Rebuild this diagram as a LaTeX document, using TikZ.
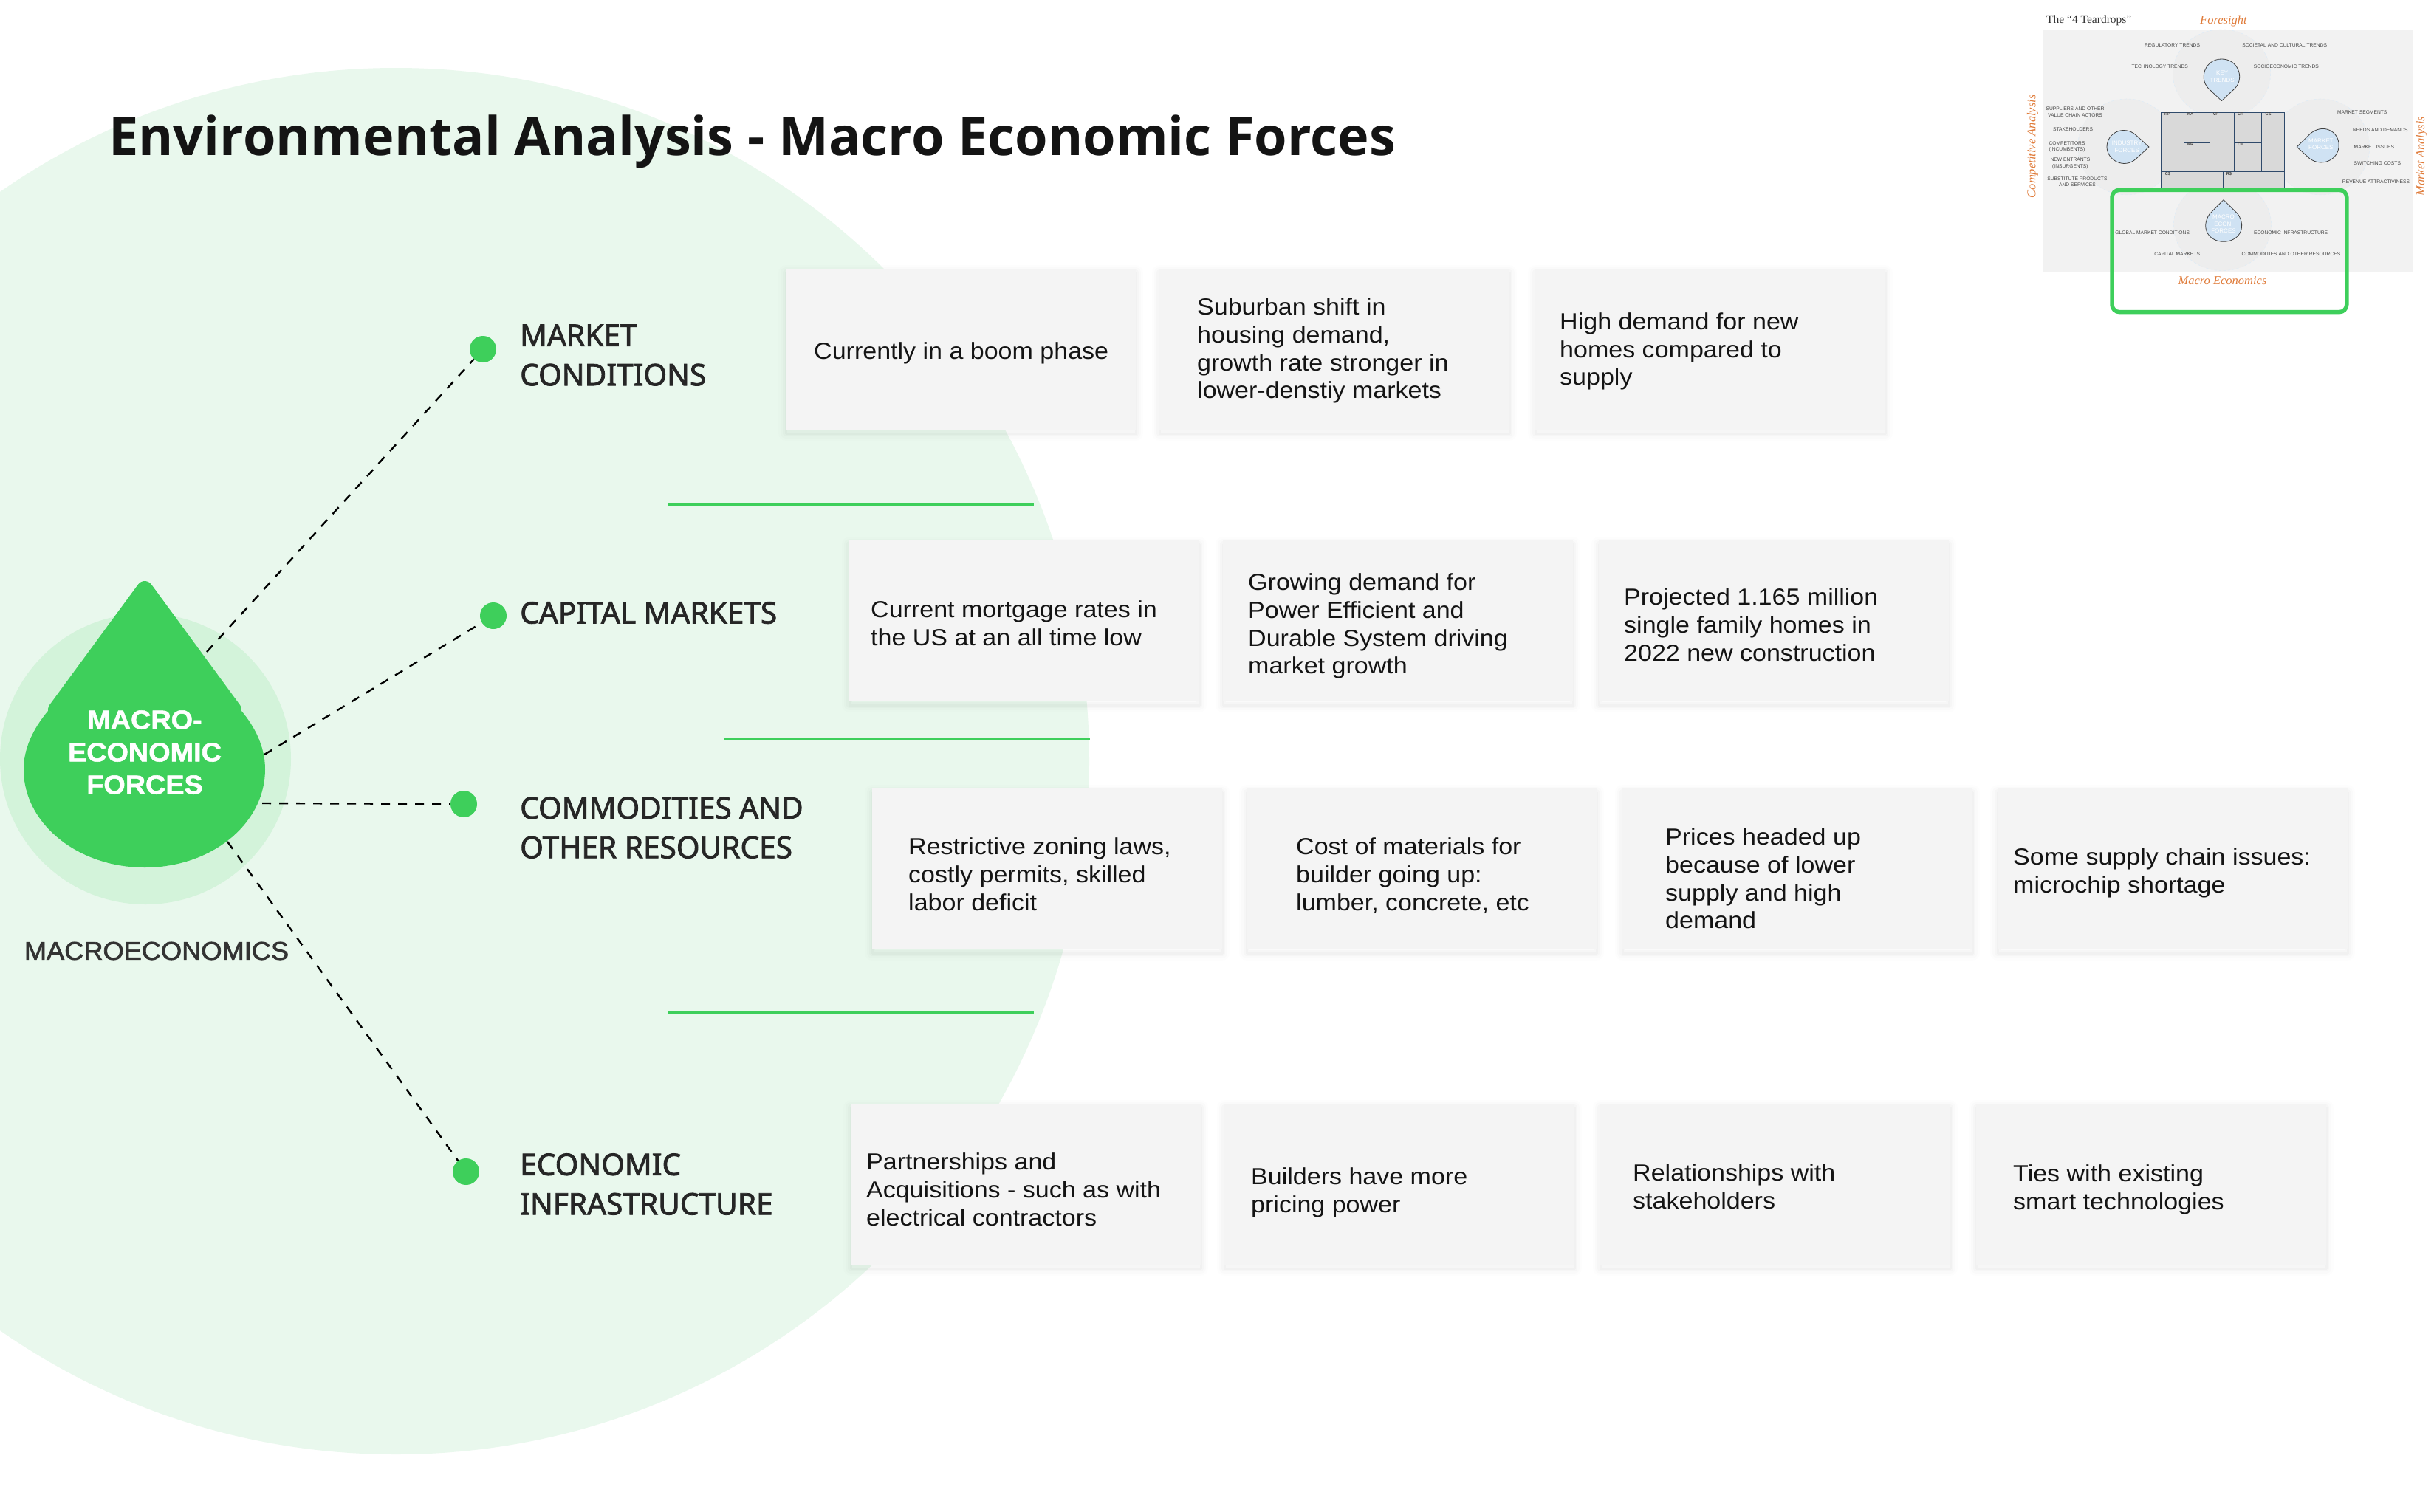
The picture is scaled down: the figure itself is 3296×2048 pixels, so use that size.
\documentclass[tikz,border=0pt]{standalone}
\usepackage{fontspec}
\setmainfont{Liberation Sans}
\newfontfamily\inter[FakeStretch=1.08]{Liberation Sans}
\newfontfamily\intermed[FakeStretch=1.05,FakeBold=2]{Liberation Sans}
\newfontfamily\interbold[FakeStretch=1.05,FakeBold=1.5]{Liberation Sans Bold}
\newfontfamily\notob{Open Sans}
\newfontfamily\notomed[FakeBold=2]{Noto Sans}
\newfontfamily\thumbserif{Liberation Serif}
\definecolor{leaf}{HTML}{3ECF5B}
\definecolor{halo}{HTML}{D3F3DA}
\definecolor{bigc}{HTML}{E9F8ED}
\definecolor{cardc}{HTML}{F4F4F4}
\definecolor{thumborange}{HTML}{E07B39}
\definecolor{thumbblue}{HTML}{CFE2F3}
\definecolor{thumbline}{HTML}{2F4A6B}
\tikzset{
  cardbox/.style={rectangle,fill=cardc,minimum width=474pt,minimum height=218pt,inner sep=0pt,
    preaction={draw=black,draw opacity=.008,line width=20pt,line join=round,transform canvas={yshift=-5pt}},
    preaction={draw=black,draw opacity=.010,line width=14pt,line join=round,transform canvas={yshift=-5pt}},
    preaction={draw=black,draw opacity=.014,line width=8pt,line join=round,transform canvas={yshift=-5pt}},
    preaction={draw=black,draw opacity=.018,line width=3pt,line join=round,transform canvas={yshift=-5pt}}},
  cardtext/.style={anchor=west,align=left,inner sep=0pt,text=black!92,font=\inter\fontsize{31.5}{37.8}\selectfont},
  headtext/.style={anchor=west,align=left,inner sep=0pt,text=black!85,font=\notomed\fontsize{40.6}{53.5}\selectfont},
  dotn/.style={circle,fill=leaf,minimum size=36pt,inner sep=0pt},
  dashlink/.style={draw=black,line width=2.4pt,dash pattern=on 12pt off 11pt},
  sepline/.style={draw=leaf,line width=3.5pt},
  thtext/.style={inner sep=0pt,align=center,text=black!72,font=\fontsize{6.7}{8.6}\selectfont},
  thcell/.style={inner sep=0pt,text=black!75,font=\bfseries\fontsize{5.6}{6}\selectfont},
  thdrop/.style={inner sep=0pt,align=center,text=white,font=\fontsize{8}{9.6}\selectfont},
  thorange/.style={inner sep=0pt,text=thumborange,font=\thumbserif\itshape\fontsize{16.5}{18}\selectfont},
  thcircle/.style={fill=black!7,draw=thumbblue!70!white,line width=.5pt,dashed},
  thtear/.style={fill=thumbblue,draw=black!75,line width=.8pt,line join=round},
}
\newcommand{\cardn}[6]{%
  \node[cardbox] (#1) at ({#2+237},#3) {};
  \node[cardtext] (#1t) at ({#4},{#3+3+#6}) {#5};
}
\begin{document}
\begin{tikzpicture}[x=1pt,y=-1pt]
\useasboundingbox (0,0) rectangle (3296,2048);
\fill[white] (0,0) rectangle (3296,2048);
% large background circle
\begin{scope}
\clip (0,0) rectangle (3296,2048);
\fill[bigc] (536,1031) circle [radius=939];
\end{scope}
% title
\node[anchor=west,inner sep=0pt,text=black!92,font=\notob\bfseries\fontsize{72}{80}\selectfont] (title) at (147,192) {Environmental Analysis - Macro Economic Forces};
% halo and drop
\fill[halo] (197,1028) circle [radius=197];
\coordinate (d1) at (280,883);
\coordinate (d2) at (358,1022);
\coordinate (d3) at (355,1088);
\coordinate (d4) at (308,1140);
% dots
\node[dotn] (dot1) at (654,473) {};
\node[dotn] (dot2) at (668,834) {};
\node[dotn] (dot3) at (628,1089) {};
\node[dotn] (dot4) at (631,1587) {};
% links
\draw[dashlink] (d1) -- (dot1);
\draw[dashlink] (d2) -- (dot2);
\draw[dashlink] (d3) -- (dot3);
\draw[dashlink] (d4) -- (dot4);
% drop
\fill[leaf,line join=round] (186,793) .. controls (191,785) and (201,785) .. (206,793)
  -- (325,955) .. controls (327,958) and (327,961) .. (327,963)
  .. controls (348,988) and (359,1015) .. (359,1042)
  .. controls (359,1116) and (286,1175) .. (196,1175)
  .. controls (106,1175) and (32,1116) .. (32,1042)
  .. controls (32,1015) and (44,988) .. (65,963)
  .. controls (65,961) and (65,958) .. (67,955) -- cycle;
\node[align=center,inner sep=0pt,text=white,font=\interbold\fontsize{36}{44}\selectfont] (droplabel) at (196,1019) {MACRO-\\ECONOMIC\\FORCES};
\node[inner sep=0pt,text=black!80,font=\intermed\fontsize{34.5}{44}\selectfont] (macro) at (212,1288) {MACROECONOMICS};
% headings
\node[headtext] (h1) at (704,481) {MARKET\\CONDITIONS};
\node[headtext] (h2) at (704,830) {CAPITAL MARKETS};
\node[headtext] (h3) at (704,1121) {COMMODITIES AND\\OTHER RESOURCES};
\node[headtext] (h4) at (704,1604) {ECONOMIC\\INFRASTRUCTURE};
% separators
\coordinate (s1a) at (904,683); \coordinate (s1b) at (1400,683);
\coordinate (s2a) at (980,1001); \coordinate (s2b) at (1476,1001);
\coordinate (s3a) at (904,1371); \coordinate (s3b) at (1400,1371);
\draw[sepline] (s1a) -- (s1b);
\draw[sepline] (s2a) -- (s2b);
\draw[sepline] (s3a) -- (s3b);
% cards
\cardn{c11}{1064}{473}{1102}{Currently in a boom phase}{2}
\cardn{c12}{1570}{473}{1621}{Suburban shift in\\housing demand,\\growth rate stronger in\\lower-denstiy markets}{-1}
\cardn{c13}{2079}{473}{2112}{High demand for new\\homes compared to\\supply}{0}
\cardn{c21}{1150}{841}{1179}{Current mortgage rates in\\the US at an all time low}{0}
\cardn{c22}{1656}{841}{1690}{Growing demand for\\Power Efficient and\\Durable System driving\\market growth}{4}
\cardn{c23}{2165}{841}{2199}{Projected 1.165 million\\single family homes in\\2022 new construction}{2}
\cardn{c31}{1181}{1177}{1230}{Restrictive zoning laws,\\costly permits, skilled\\labor deficit}{4}
\cardn{c32}{1688}{1177}{1755}{Cost of materials for\\builder going up:\\lumber, concrete, etc}{6}
\cardn{c33}{2197}{1177}{2255}{Prices headed up\\because of lower\\supply and high\\demand}{10}
\cardn{c34}{2705}{1177}{2726}{Some supply chain issues:\\microchip shortage}{2}
\cardn{c41}{1152}{1604}{1173}{Partnerships and\\Acquisitions - such as with\\electrical contractors}{4}
\cardn{c42}{1658}{1604}{1694}{Builders have more\\pricing power}{8}
\cardn{c43}{2167}{1604}{2211}{Relationships with\\stakeholders}{0}
\cardn{c44}{2676}{1604}{2726}{Ties with existing\\smart technologies}{4}
% thumbnail (coordinates in crop space)
\begin{scope}[xshift=2720pt,x=0.3674pt,y=-0.3333pt]
\fill[black!5] (125,120) rectangle (1488,1103);
\draw[thcircle] (785,300) ellipse [x radius=180,y radius=180];
\draw[thcircle] (435,597) ellipse [x radius=180,y radius=195];
\draw[thcircle] (1150,597) ellipse [x radius=180,y radius=195];
\draw[thcircle] (788,915) ellipse [x radius=180,y radius=185];
% tears
\draw[thtear] (785,410) -- (735,358) .. controls (700,315) and (725,240) .. (785,240) .. controls (845,240) and (870,315) .. (835,358) -- cycle;
\draw[thtear] (517,597) -- (470,550) .. controls (425,505) and (362,540) .. (362,597) .. controls (362,650) and (425,690) .. (470,645) -- cycle;
\draw[thtear] (1062,597) -- (1110,545) .. controls (1155,500) and (1217,530) .. (1217,590) .. controls (1217,650) and (1155,680) .. (1110,645) -- cycle;
\draw[thtear] (792,812) -- (740,870) .. controls (705,930) and (740,982) .. (792,982) .. controls (845,982) and (880,930) .. (845,870) -- cycle;
\node[thdrop] (tk) at (787,312) {KEY\\TRENDS};
\node[thdrop] (ti) at (436,596) {INDUSTRY\\FORCES};
\node[thdrop] (tm) at (1151,586) {MARKET\\FORCES};
\node[thdrop] (te) at (792,911) {MACRO\\ECON.\\FORCES};
% canvas
\fill[black!15] (562,458) rectangle (1017,763);
\draw[draw=thumbline,line width=.8pt] (562,458) rectangle (1017,763)
  (646,458) -- (646,697) (741,458) -- (741,697) (831,458) -- (831,697) (933,458) -- (933,697)
  (562,697) -- (1017,697) (646,580) -- (741,580) (831,580) -- (933,580) (789,697) -- (789,763);
\node[thcell] (rp) at (585,465) {RP};
\node[thcell] (ka) at (670,465) {KA};
\node[thcell] (vp) at (763,465) {VP};
\node[thcell] (cr) at (855,465) {CR};
\node[thcell] (cs) at (957,465) {CS};
\node[thcell] (kr) at (670,588) {KR};
\node[thcell] (ch) at (855,587) {CH};
\node[thcell] (cc) at (586,707) {C\$};
\node[thcell] (rr) at (812,707) {R\$};
% labels
\node[thtext] (l1) at (603,184) {REGULATORY TRENDS};
\node[thtext] (l2) at (1017,184) {SOCIETAL AND CULTURAL TRENDS};
\node[thtext] (l3) at (557,272) {TECHNOLOGY TRENDS};
\node[thtext] (l4) at (1023,272) {SOCIOECONOMIC TRENDS};
\node[thtext] (l5) at (245,455) {SUPPLIERS AND OTHER\\VALUE CHAIN ACTORS};
\node[thtext] (l6) at (237,527) {STAKEHOLDERS};
\node[thtext] (l7) at (215,597) {COMPETITORS\\(INCUMBENTS)};
\node[thtext] (l8) at (227,665) {NEW ENTRANTS\\(INSURGENTS)};
\node[thtext] (l9) at (253,739) {SUBSTITUTE PRODUCTS\\AND SERVICES};
\node[thtext] (l10) at (1303,456) {MARKET SEGMENTS};
\node[thtext] (l11) at (1370,528) {NEEDS AND DEMANDS};
\node[thtext] (l12) at (1347,597) {MARKET ISSUES};
\node[thtext] (l13) at (1359,665) {SWITCHING COSTS};
\node[thtext] (l14) at (1354,740) {REVENUE ATTRACTIVINESS};
\node[thtext] (l15) at (530,945) {GLOBAL MARKET CONDITIONS};
\node[thtext] (l16) at (1040,945) {ECONOMIC INFRASTRUCTURE};
\node[thtext] (l17) at (621,1033) {CAPITAL MARKETS};
\node[thtext] (l18) at (1041,1033) {COMMODITIES AND OTHER RESOURCES};
\node[thorange] (o1) at (792,85) {Foresight};
\node[thorange] (o2) at (788,1140) {Macro Economics};
\node[thorange,rotate=90] (o3) at (88,595) {Competitive Analysis};
\node[thorange,rotate=90] (o4) at (1522,635) {Market Analysis};
\node[inner sep=0pt,text=black!80,font=\thumbserif\fontsize{15.5}{18}\selectfont] (o5) at (296,82) {The “4 Teardrops”};
\draw[leaf,line width=5.5pt,rounded corners=10pt] (381,772) rectangle (1246,1268);
\end{scope}
\end{tikzpicture}
\end{document}
